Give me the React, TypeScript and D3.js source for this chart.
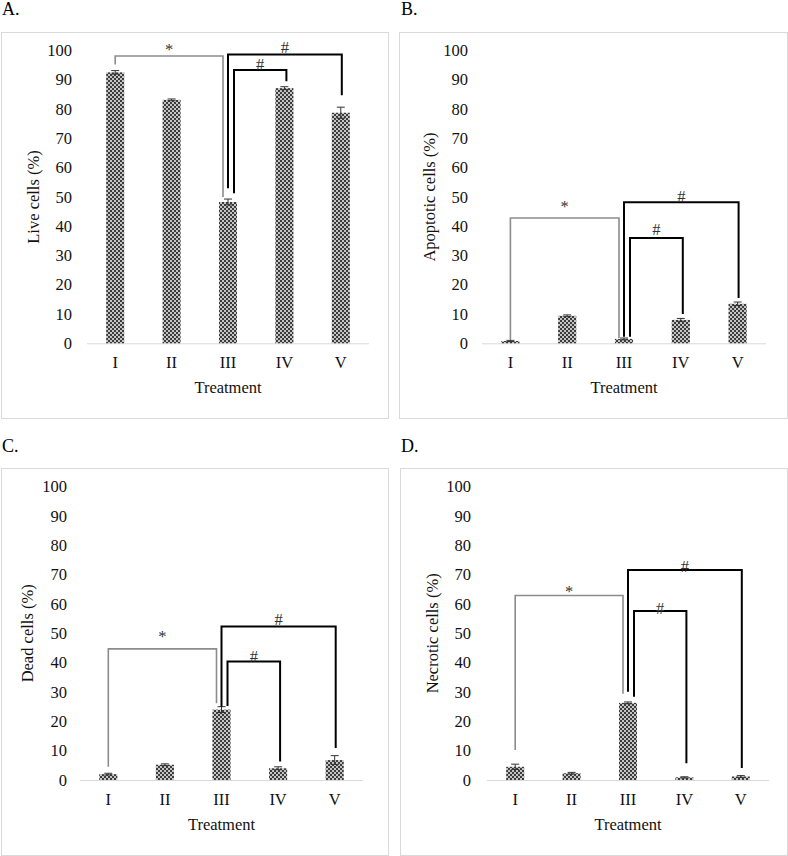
import React from "react";
import * as d3 from "d3";

// ---------- DATA ----------
const categories = ["I", "II", "III", "IV", "V"];
const yTicks = [0, 10, 20, 30, 40, 50, 60, 70, 80, 90, 100];

const liveValues = [92.6, 83.2, 48.3, 87.2, 78.8];
const liveErrors = [0.6, 0.3, 1.0, 0.5, 1.9];

const apoptoticValues = [0.8, 9.4, 1.5, 8.0, 13.5];
const apoptoticErrors = [0.2, 0.3, 0.3, 0.5, 0.6];

const deadValues = [2.0, 5.2, 24.0, 4.0, 6.8];
const deadErrors = [0.3, 0.3, 1.0, 0.5, 1.5];

const necroticValues = [4.5, 2.3, 26.3, 0.9, 1.2];
const necroticErrors = [0.9, 0.3, 0.3, 0.2, 0.3];

// significance brackets: [fromIndex, toIndex, top, leftBottom, rightBottom, symbolCentre, symbol, kind]
type Bracket = [number, number, number, number, number, number, string, "gray" | "outer" | "inner"];

const liveBrackets: Bracket[] = [
  [0, 2, 98.2, 95.3, 50.0, 101.5, "*", "gray"],
  [2, 4, 98.7, 53.0, 84.8, 101.1, "#", "outer"],
  [2, 3, 93.4, 51.3, 89.6, 95.3, "#", "inner"],
];
const apoptoticBrackets: Bracket[] = [
  [0, 2, 42.8, 1.1, 1.8, 48.0, "*", "gray"],
  [2, 4, 48.2, 2.2, 15.5, 50.1, "#", "outer"],
  [2, 3, 36.0, 2.2, 10.0, 38.8, "#", "inner"],
];
const deadBrackets: Bracket[] = [
  [0, 2, 44.7, 4.5, 26.2, 50.2, "*", "gray"],
  [2, 4, 52.3, 25.0, 10.9, 54.6, "#", "outer"],
  [2, 3, 40.4, 25.2, 6.3, 42.0, "#", "inner"],
];
const necroticBrackets: Bracket[] = [
  [0, 2, 62.9, 10.2, 29.4, 65.3, "*", "gray"],
  [2, 4, 71.6, 30.1, 4.1, 72.8, "#", "outer"],
  [2, 3, 57.6, 28.4, 5.7, 58.5, "#", "inner"],
];

// ---------- LAYOUT ----------
const panels = [
  {
    label: "A.", yLabel: "Live cells (%)", values: liveValues, errors: liveErrors, brackets: liveBrackets,
    frame: { x: 1, y: 32, w: 387, h: 386 }, labelX: 2, labelY: 15,
    x0: 87, x1: 369, yTop: 50.7, yBottom: 343.3, tickRight: 72, yLabelX: 33,
  },
  {
    label: "B.", yLabel: "Apoptotic cells (%)", values: apoptoticValues, errors: apoptoticErrors, brackets: apoptoticBrackets,
    frame: { x: 399, y: 32, w: 388, h: 386 }, labelX: 401, labelY: 15,
    x0: 482, x1: 766, yTop: 50.7, yBottom: 343.3, tickRight: 468, yLabelX: 429,
  },
  {
    label: "C.", yLabel: "Dead cells (%)", values: deadValues, errors: deadErrors, brackets: deadBrackets,
    frame: { x: 1, y: 468, w: 387, h: 387 }, labelX: 2, labelY: 452,
    x0: 80, x1: 363, yTop: 486.7, yBottom: 780, tickRight: 67, yLabelX: 27,
  },
  {
    label: "D.", yLabel: "Necrotic cells (%)", values: necroticValues, errors: necroticErrors, brackets: necroticBrackets,
    frame: { x: 400, y: 468, w: 387, h: 387 }, labelX: 401, labelY: 452,
    x0: 487, x1: 769, yTop: 486.7, yBottom: 780, tickRight: 471, yLabelX: 432,
  },
];

const FONT = "'Liberation Serif', 'Times New Roman', serif";

function Panel({ p }: { p: (typeof panels)[number] }) {
  const x = d3.scaleBand<string>().domain(categories).range([p.x0, p.x1]).paddingInner(0.68).paddingOuter(0.34);
  const y = d3.scaleLinear().domain([0, 100]).range([p.yBottom, p.yTop]);
  const cx = (i: number) => (x(categories[i]) as number) + x.bandwidth() / 2;
  const bracketOffsets: Record<string, [number, number]> = {
    gray: [0, -5],
    outer: [0, 1],
    inner: [6, 2],
  };
  const midY = (p.yTop + p.yBottom) / 2;
  const midX = (p.x0 + p.x1) / 2;
  return (
    <g>
      <text x={p.labelX} y={p.labelY} fontSize={18} fontFamily={FONT} fill="#000">{p.label}</text>
      <rect x={p.frame.x + 0.5} y={p.frame.y + 0.5} width={p.frame.w} height={p.frame.h} fill="#fff" stroke="#d9d9d9" strokeWidth={1} />
      {yTicks.map((t) => (
        <text key={t} x={p.tickRight} y={y(t) + 5.5} textAnchor="end" fontSize={16.5} fontFamily={FONT} fill="#111">{t}</text>
      ))}
      <line x1={p.x0} x2={p.x1} y1={p.yBottom + 0.5} y2={p.yBottom + 0.5} stroke="#d9d9d9" strokeWidth={1} />
      {p.values.map((v, i) => (
        <rect key={i} x={x(categories[i])} y={y(v)} width={x.bandwidth()} height={p.yBottom - y(v)} fill="url(#checker)" />
      ))}
      {p.values.map((v, i) => {
        const e = p.errors[i];
        const c = cx(i);
        return (
          <g key={"e" + i} stroke="#333" strokeWidth={1}>
            <line x1={c} x2={c} y1={y(v + e)} y2={y(Math.max(0, v - e))} />
            <line x1={c - 4} x2={c + 4} y1={y(v + e)} y2={y(v + e)} />
            <line x1={c - 4} x2={c + 4} y1={y(Math.max(0, v - e))} y2={y(Math.max(0, v - e))} />
          </g>
        );
      })}
      {p.brackets.map((b, k) => {
        const [from, to, top, lb, rb, symAt, sym, kind] = b;
        const [ol, or] = bracketOffsets[kind];
        const xl = cx(from) + ol;
        const xr = cx(to) + or;
        const path = d3.path();
        path.moveTo(xl, y(lb));
        path.lineTo(xl, y(top));
        path.lineTo(xr, y(top));
        path.lineTo(xr, y(rb));
        const gray = kind === "gray";
        const base = y(symAt) + (sym === "*" ? 9 : 5.5);
        return (
          <g key={"b" + k}>
            <path d={path.toString()} fill="none" stroke={gray ? "#8c8c8c" : "#000"} strokeWidth={gray ? 1.6 : 2} />
            <text x={(xl + xr) / 2} y={base} textAnchor="middle" fontSize={16.5} fontFamily={FONT} fill="#333">{sym}</text>
          </g>
        );
      })}
      {categories.map((c, i) => (
        <text key={c} x={cx(i)} y={p.yBottom + 25} textAnchor="middle" fontSize={16.5} fontFamily={FONT} fill="#111">{c}</text>
      ))}
      <text x={midX} y={p.yBottom + 50} textAnchor="middle" fontSize={16.5} fontFamily={FONT} fill="#111">Treatment</text>
      <text transform={`translate(${p.yLabelX},${midY}) rotate(-90)`} textAnchor="middle" dy={5.5} fontSize={16.5} fontFamily={FONT} fill="#111">{p.yLabel}</text>
    </g>
  );
}

export default function App() {
  return (
    <svg width={788} height={856} style={{ position: "absolute", left: 0, top: 0, background: "#fff" }}>
      <defs>
        <pattern id="checker" width={4} height={4} patternUnits="userSpaceOnUse">
          <rect width={4} height={4} fill="#c4c4c4" />
          <rect width={2} height={2} fill="#3c3c3c" />
          <rect x={2} y={2} width={2} height={2} fill="#3c3c3c" />
        </pattern>
      </defs>
      <rect width={788} height={856} fill="#fff" />
      {panels.map((p) => (
        <Panel key={p.label} p={p} />
      ))}
    </svg>
  );
}
